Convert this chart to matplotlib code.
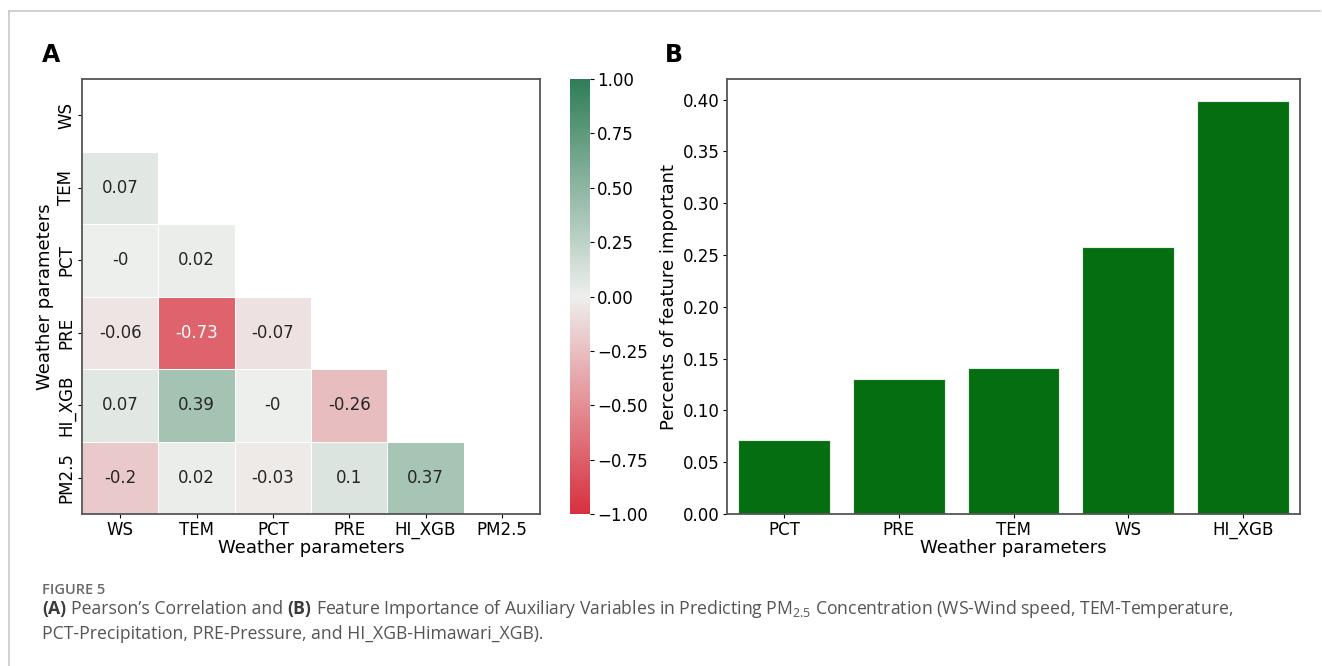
import numpy as np
import matplotlib.pyplot as plt
from matplotlib.colors import LinearSegmentedColormap
from matplotlib.lines import Line2D
from matplotlib.ticker import FuncFormatter

plt.rcParams['font.family'] = ['DejaVu Sans']
plt.rcParams['mathtext.fontset'] = 'custom'
plt.rcParams['mathtext.rm'] = 'Open Sans'

# correlation matrix, lower triangle only (row i, columns 0..i-1)
labels = ["WS", "TEM", "PCT", "PRE", "HI_XGB", "PM2.5"]
corr_lower = [
    [],
    [0.07],
    [-0.0, 0.02],
    [-0.06, -0.73, -0.07],
    [0.07, 0.39, -0.0, -0.26],
    [-0.2, 0.02, -0.03, 0.1, 0.37],
]

# feature importance
features = ["PCT", "PRE", "TEM", "WS", "HI_XGB"]
importance = [0.071, 0.130, 0.141, 0.258, 0.399]

n = len(labels)
corr = np.eye(n)
for i, row in enumerate(corr_lower):
    for j, v in enumerate(row):
        corr[i, j] = v
        corr[j, i] = v
mask = np.triu(np.ones((n, n), dtype=bool))
data = np.ma.masked_array(corr, mask=mask)

cmap = LinearSegmentedColormap.from_list("rg", ["#d8303e", "#eeefed", "#2f7d57"])

W, H = 1322, 666
fig = plt.figure(figsize=(W / 100, H / 100), dpi=100)

def fx(px):
    return px / W

def fy(py):
    return 1 - py / H

def luminance(rgb):
    lin = [c / 12.92 if c <= 0.03928 else ((c + 0.055) / 1.055) ** 2.4 for c in rgb[:3]]
    return 0.2126 * lin[0] + 0.7152 * lin[1] + 0.0722 * lin[2]

tick_fs = 12
lab_fs = 13
spine_col = "#555555"

# ---- A: heatmap ----
ax1 = fig.add_axes([fx(82), fy(514), fx(540) - fx(82), fy(79) - fy(514)])
mesh = ax1.pcolormesh(np.arange(n + 1), np.arange(n + 1), data, cmap=cmap,
                      vmin=-1, vmax=1, edgecolors="white", linewidth=0.6)
ax1.set_xlim(0, n)
ax1.set_ylim(n, 0)
for i in range(n):
    for j in range(n):
        if mask[i, j]:
            continue
        v = corr[i, j]
        lum = luminance(cmap((v + 1) / 2))
        ax1.text(j + 0.5, i + 0.5, format(v, "g"), ha="center", va="center",
                 fontsize=tick_fs, color="white" if lum < 0.408 else "#262626")
ax1.set_xticks(np.arange(n) + 0.5)
ax1.set_xticklabels(labels, fontsize=tick_fs)
ax1.set_yticks(np.arange(n) + 0.5)
ax1.set_yticklabels(labels, fontsize=tick_fs, rotation=90, va="center")
ax1.set_xlabel("Weather parameters", fontsize=lab_fs, labelpad=0)
ax1.set_ylabel("Weather parameters", fontsize=lab_fs, labelpad=2)
for s in ax1.spines.values():
    s.set_color(spine_col)
    s.set_linewidth(1.3)
ax1.tick_params(length=3, pad=2)

cax = fig.add_axes([fx(570), fy(514), fx(590) - fx(570), fy(79) - fy(514)])
cb = fig.colorbar(mesh, cax=cax, ticks=np.arange(-1, 1.01, 0.25))
cb.outline.set_visible(False)
cb.ax.yaxis.set_major_formatter(FuncFormatter(lambda v, p: f"{v:.2f}".replace("-", "\u2212")))
cb.ax.tick_params(labelsize=tick_fs, length=3, pad=2)

# ---- B: feature importance bars ----
ax2 = fig.add_axes([fx(727), fy(514), fx(1300) - fx(727), fy(79) - fy(514)])
ax2.bar(features, importance, width=0.8, color="#056e10", edgecolor="#e6efe6", linewidth=0.8)
ax2.set_xlim(-0.5, len(features) - 0.5)
ax2.set_ylim(0, 0.42)
ax2.set_yticks(np.arange(0, 0.41, 0.05))
ax2.yaxis.set_major_formatter(FuncFormatter(lambda v, p: f"{v:.2f}"))
ax2.tick_params(labelsize=tick_fs, length=3, pad=2)
ax2.set_xlabel("Weather parameters", fontsize=lab_fs, labelpad=0)
ax2.set_ylabel("Percents of feature important", fontsize=lab_fs, labelpad=4)
for s in ax2.spines.values():
    s.set_color(spine_col)
    s.set_linewidth(1.3)

# panel letters
fig.text(fx(42), fy(55), "A", fontsize=17, fontweight="bold", va="center")
fig.text(fx(665), fy(55), "B", fontsize=17, fontweight="bold", va="center")

# page frame
frame_col = "#c8c8c8"
fig.add_artist(Line2D([fx(9), fx(1320)], [fy(11), fy(11)], color=frame_col, lw=1.2))
fig.add_artist(Line2D([fx(9), fx(9)], [fy(11), 0], color=frame_col, lw=1.2))

# caption
cap_font = "Open Sans"
cap_fs = 12.7
cap_col = "#555555"
fig.text(fx(42), fy(590), "FIGURE 5", fontsize=10.5, family=cap_font, fontweight="semibold",
         color="#6a6a6a", va="center")

renderer = fig.canvas.get_renderer()

def width_of(s, weight):
    t = fig.text(0, 0, s, fontsize=cap_fs, family=cap_font, fontweight=weight)
    w = t.get_window_extent(renderer).width
    t.remove()
    return w

space = width_of("x x", "normal") - width_of("xx", "normal")

def draw_runs(x, y, runs):
    for s, weight in runs:
        t = fig.text(fx(x), fy(y), s, fontsize=cap_fs, family=cap_font, fontweight=weight,
                     color=cap_col if weight == "normal" else "#3a3a3a", va="baseline")
        x += t.get_window_extent(renderer).width + space

draw_runs(42, 614, [
    ("(A)", "bold"),
    ("Pearson\u2019s Correlation and", "normal"),
    ("(B)", "bold"),
    ("Feature Importance of Auxiliary Variables in Predicting PM$_{2.5}$ Concentration "
     "(WS-Wind speed, TEM-Temperature,", "normal"),
])
draw_runs(42, 639, [
    ("PCT-Precipitation, PRE-Pressure, and HI_XGB-Himawari_XGB).", "normal"),
])

fig.savefig("out.png", dpi=100)
